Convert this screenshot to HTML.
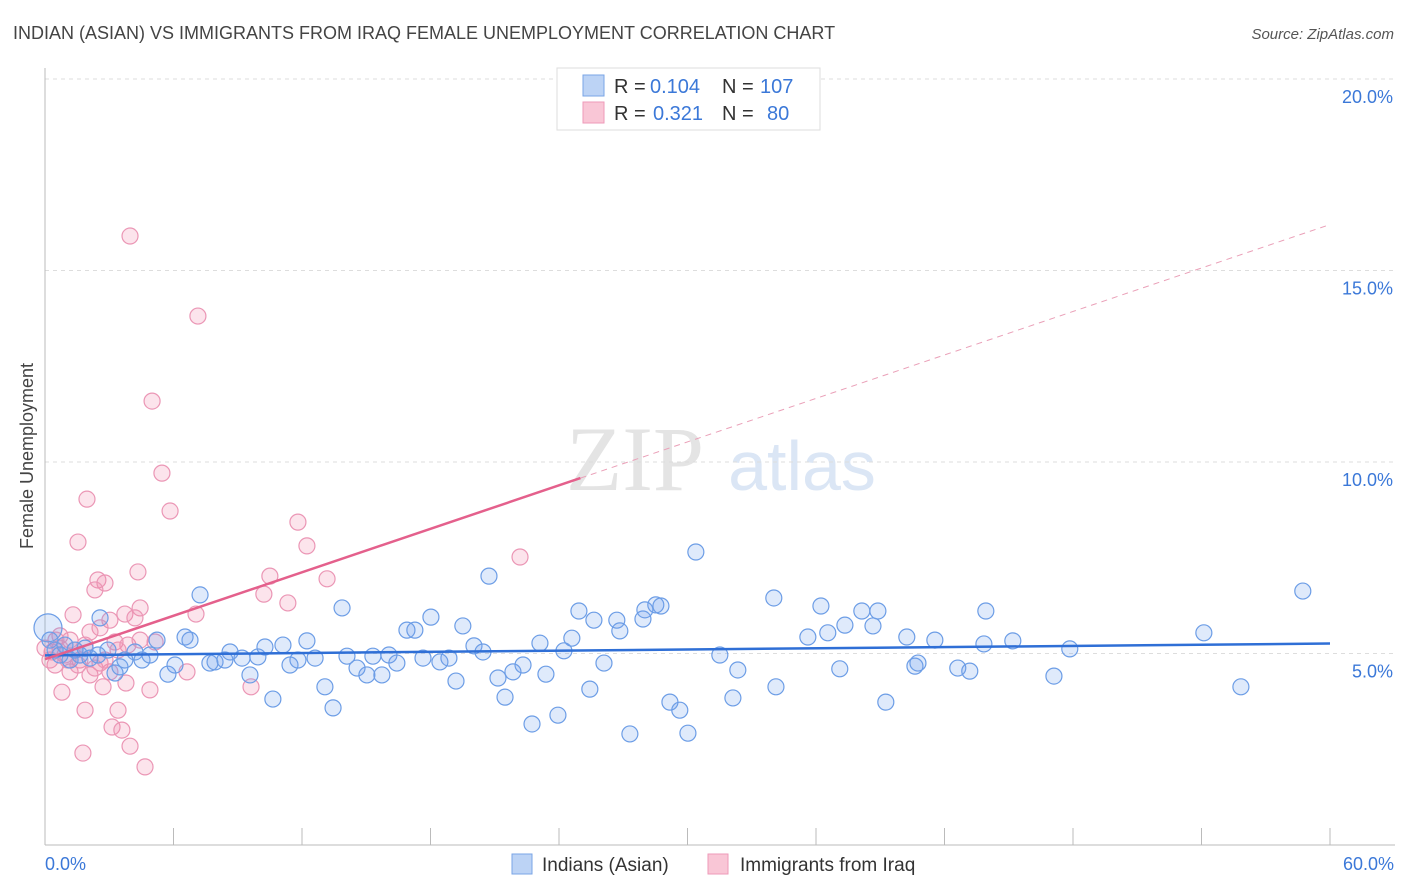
<!DOCTYPE html>
<html><head><meta charset="utf-8"><style>
body{margin:0;background:#fff;font-family:"Liberation Sans",sans-serif;}
svg{display:block}
</style></head><body>
<svg width="1406" height="892" xmlns="http://www.w3.org/2000/svg" id="chart">
<text x="13" y="39" font-size="18" fill="#444">INDIAN (ASIAN) VS IMMIGRANTS FROM IRAQ FEMALE UNEMPLOYMENT CORRELATION CHART</text>
<text x="1394" y="39" font-size="15" fill="#555" font-style="italic" text-anchor="end">Source: ZipAtlas.com</text>
<text x="33" y="456" font-size="18" fill="#444" text-anchor="middle" transform="rotate(-90 33 456)">Female Unemployment</text>
<g>
<text x="635" y="490" font-size="92" fill="#e4e4e4" font-family="Liberation Serif,serif" text-anchor="middle">ZIP</text>
<text x="802" y="490" font-size="70" fill="#dbe6f5" text-anchor="middle">atlas</text>
</g>
<g id="grid"></g>
<g id="axes"></g>
<g id="pts"></g>
<g id="trends"></g>
<g>
<rect x="557" y="68" width="263" height="62" fill="#fff" stroke="#ddd"/>
<rect x="583" y="75" width="21" height="21" fill="#bcd3f5" stroke="#7aa4e6"/>
<rect x="583" y="102" width="21" height="21" fill="#f9c6d6" stroke="#ee9ab8"/>
<g font-size="20" fill="#333">
<text x="614" y="93">R =</text><text x="650" y="93" fill="#3b78d8">0.104</text>
<text x="722" y="93">N =</text><text x="760" y="93" fill="#3b78d8">107</text>
</g>
<g font-size="20" fill="#333">
<text x="614" y="120">R =</text><text x="653" y="120" fill="#3b78d8">0.321</text>
<text x="722" y="120">N =</text><text x="767" y="120" fill="#3b78d8">80</text>
</g>
</g>
<g>
<rect x="512" y="854" width="20" height="20" fill="#bcd3f5" stroke="#7aa4e6"/>
<text x="542" y="871" font-size="19" fill="#333">Indians (Asian)</text>
<rect x="708" y="854" width="20" height="20" fill="#f9c6d6" stroke="#ee9ab8"/>
<text x="740" y="871" font-size="19" fill="#333">Immigrants from Iraq</text>
</g>
<text x="45" y="870" font-size="18" fill="#3b78d8">0.0%</text>
<text x="1394" y="870" font-size="18" fill="#3b78d8" text-anchor="end">60.0%</text>
</svg>
<script>
const yTicks=[5,10,15,20];
const yTickLabels=["5.0%","10.0%","15.0%","20.0%"];
const xTicks=[0,6,12,18,24,30,36,42,48,54,60];
const blueX=[7.24,6.54,6.77,7.70,7.94,8.40,8.64,9.20,9.57,9.94,10.27,10.64,11.11,11.44,11.81,12.23,12.61,13.07,13.45,13.87,14.10,14.57,15.03,15.31,15.73,16.06,16.43,16.90,17.27,17.65,18.02,18.44,18.86,19.19,19.51,20.03,20.45,20.73,21.15,21.48,21.85,22.32,22.74,23.11,23.39,23.95,24.23,24.60,24.93,25.44,25.63,26.10,26.70,26.84,27.31,27.92,28.01,28.52,28.76,29.18,29.64,30.02,30.39,31.51,32.12,32.35,34.03,34.13,35.62,36.23,36.55,37.11,37.35,38.14,38.66,38.89,39.26,40.24,40.62,40.76,41.55,42.62,43.18,43.84,43.93,45.19,47.11,47.85,54.11,55.84,58.73,0.23,0.47,0.70,0.93,1.17,1.40,1.63,1.87,2.10,2.57,2.94,3.27,3.50,3.73,4.20,4.53,4.90,5.23,5.74,6.07,2.47,0.14];
const blueY=[6.53,5.43,5.35,4.75,4.78,4.83,5.04,4.88,4.44,4.91,5.17,3.81,5.22,4.70,4.83,5.33,4.88,4.13,3.58,6.19,4.93,4.62,4.44,4.93,4.44,4.96,4.75,5.61,5.61,4.88,5.95,4.78,4.88,4.28,5.72,5.20,5.04,7.02,4.36,3.86,4.52,4.70,3.16,5.27,4.46,3.39,5.07,5.40,6.11,4.07,5.87,4.75,5.87,5.59,2.90,5.90,6.14,6.27,6.24,3.73,3.52,2.92,7.65,4.96,3.84,4.57,6.45,4.13,5.43,6.24,5.54,4.60,5.74,6.11,5.72,6.11,3.73,5.43,4.67,4.75,5.35,4.62,4.54,5.25,6.11,5.33,4.41,5.12,5.54,4.13,6.63,5.35,5.09,4.96,5.22,4.83,5.09,4.96,5.14,4.88,5.93,5.09,4.49,4.65,4.83,5.04,4.83,4.96,5.35,4.46,4.70,4.96,5.67];
const pinkX=[3.97,7.14,5.00,5.46,5.84,1.96,1.54,11.81,12.23,10.50,13.17,10.22,11.34,22.18,4.34,2.47,2.80,2.33,4.44,7.05,1.31,3.73,4.20,3.03,2.57,2.10,0.70,1.17,3.27,3.87,5.14,3.41,0.93,1.63,2.57,0.47,0.23,3.03,2.10,1.17,2.33,6.63,3.78,2.71,4.90,9.62,0.79,1.87,3.41,3.13,3.59,3.97,1.77,4.67,1.40,0.70,1.87,0.33,0.51,1.07,1.54,0,2.80,4.44];
const pinkY=[15.90,13.81,11.59,9.71,8.72,9.03,7.91,8.43,7.81,7.02,6.95,6.55,6.32,7.52,7.13,6.92,6.84,6.66,6.19,6.03,6.01,6.03,5.93,5.87,5.67,5.56,5.46,5.35,5.30,5.22,5.30,5.09,4.96,4.83,4.75,4.70,4.83,4.52,4.44,4.52,4.62,4.52,4.23,4.13,4.05,4.13,3.99,3.52,3.52,3.08,3.00,2.58,2.40,2.04,5.09,5.14,5.22,5.04,5.35,4.83,4.70,5.14,4.83,5.35];
const blueTrend=[4.95,5.26];
const pinkTrend=[4.85,16.2];
const pinkSolidEnd=25;

const NS="http://www.w3.org/2000/svg";
const X=v=>45+v/60*1285, Y=v=>845-v*38.3;
function mk(tag,attrs,parent){const e=document.createElementNS(NS,tag);for(const k in attrs)e.setAttribute(k,attrs[k]);parent.appendChild(e);return e;}
const grid=document.getElementById('grid'),axes=document.getElementById('axes'),pts=document.getElementById('pts'),tr=document.getElementById('trends');
yTicks.forEach((t,i)=>{
 const l=mk('line',{x1:45,x2:1395,y1:Y(t),y2:Y(t),stroke:'#ddd','stroke-dasharray':'4,4'},grid);
 
 
 const tx=mk('text',{x:1393,y:Y(t)+24,'font-size':18,fill:'#3b78d8','text-anchor':'end'},axes);
 tx.textContent=yTickLabels[i];
 
 
});
const topl=mk('line',{x1:45,x2:1395,y1:79,y2:79,stroke:'#ddd','stroke-dasharray':'4,4'},grid);


const ya=mk('line',{x1:45,x2:45,y1:68,y2:845,stroke:'#bbb'},axes);


const xa=mk('line',{x1:45,x2:1395,y1:845,y2:845,stroke:'#bbb'},axes);


xTicks.forEach(t=>{
 const l=mk('line',{x1:X(t),x2:X(t),y1:828,y2:845,stroke:'#bbb'},axes);
 
 
});
pinkX.forEach((v,i)=>{
 const c=mk('circle',{cx:X(v),cy:Y(pinkY[i]),r:8,fill:'rgba(240,130,170,0.22)',stroke:'#eb96b5','stroke-width':1.2},pts);
 
 
});
blueX.forEach((v,i)=>{
 const c=mk('circle',{cx:X(v),cy:Y(blueY[i]),r:(i===blueX.length-1?14:8),fill:'rgba(110,160,235,0.22)',stroke:'#6c9de6','stroke-width':1.2},pts);
 
 
});
const bt=mk('line',{x1:X(0),x2:X(60),y1:Y(blueTrend[0]),y2:Y(blueTrend[1]),stroke:'#2f6fd6','stroke-width':2.5},tr);


const py=v=>pinkTrend[0]+(pinkTrend[1]-pinkTrend[0])*v/60;
const ps=mk('line',{x1:X(0),x2:X(pinkSolidEnd),y1:Y(py(0)),y2:Y(py(pinkSolidEnd)),stroke:'#e4608c','stroke-width':2.5},tr);


const pd=mk('line',{x1:X(pinkSolidEnd),x2:X(60),y1:Y(py(pinkSolidEnd)),y2:Y(py(60)),stroke:'#eaa0b8','stroke-width':1,'stroke-dasharray':'6,5'},tr);


</script>
</body></html>
